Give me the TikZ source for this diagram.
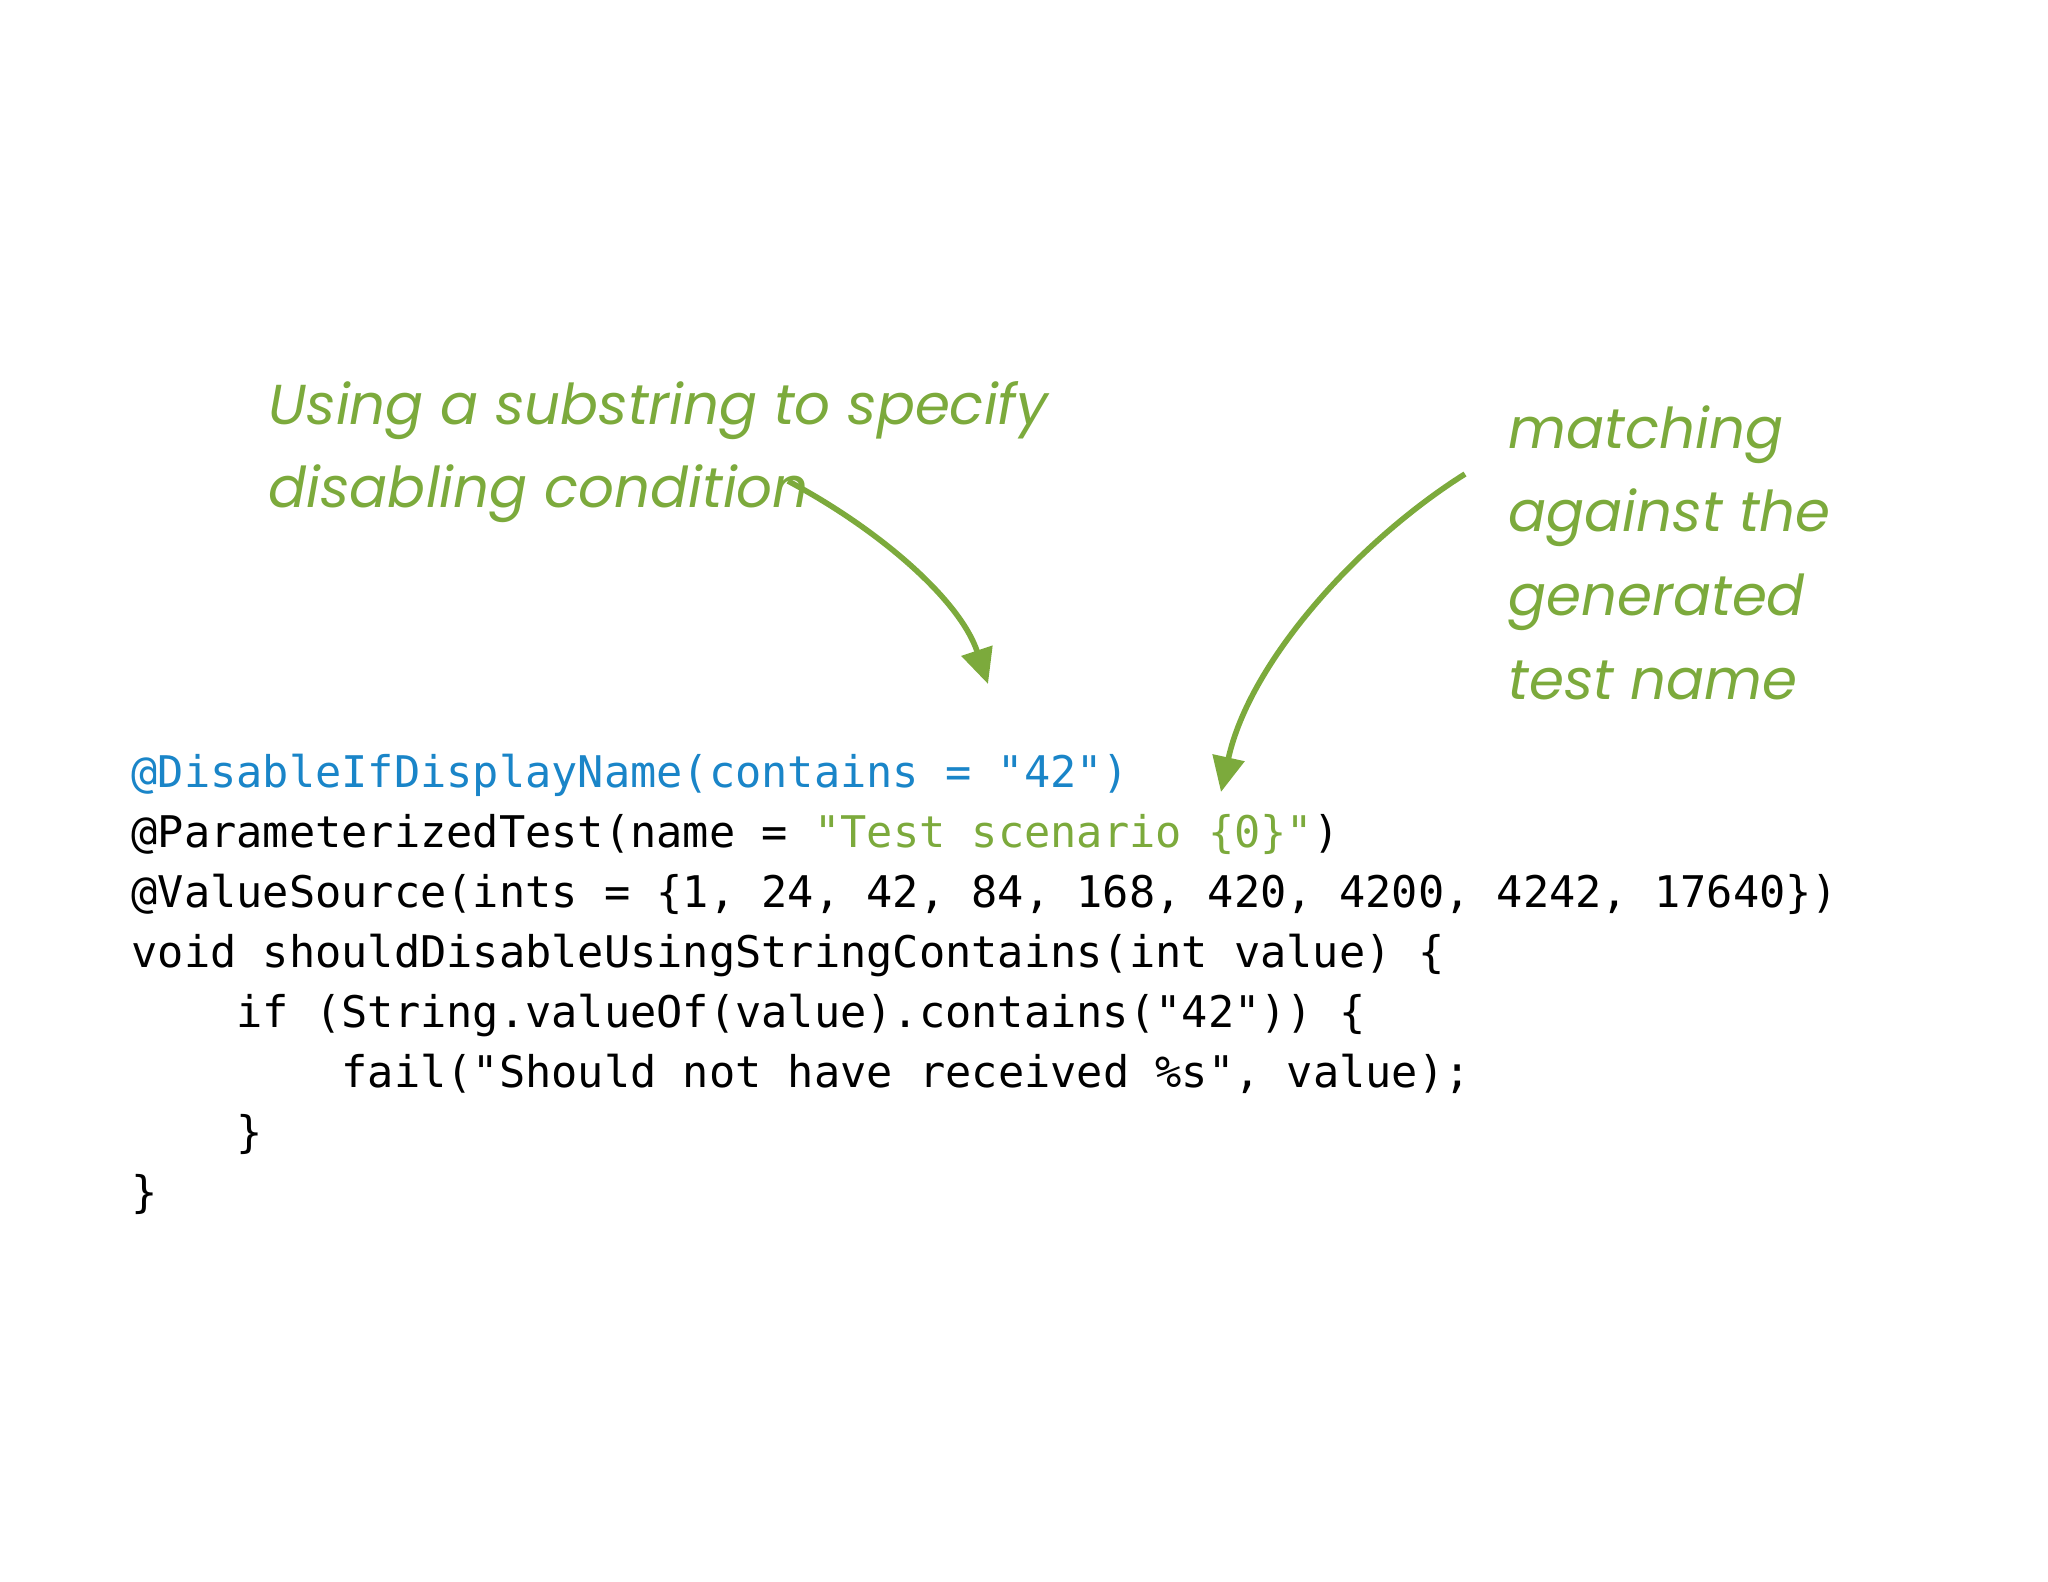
\documentclass[tikz,border=0pt]{standalone}
\usepackage{fontspec}
\setmainfont{Poppins}
\newfontfamily\codefont{DejaVu Sans Mono}
\usetikzlibrary{arrows.meta}
\definecolor{hand}{HTML}{7CAA3C}
\definecolor{anno}{HTML}{1A85C8}
\begin{document}
\begin{tikzpicture}[x=0.01cm,y=-0.01cm,
  code/.style={anchor=base west,inner sep=0,font=\codefont\fontsize{12.4pt}{14pt}\selectfont},
  note/.style={anchor=base west,inner sep=0,text=hand,font=\fontsize{16pt}{18pt}\selectfont\itshape},
  arr/.style={draw=hand,line width=1.6pt,-{Triangle[length=10pt,width=9pt]}}]
\useasboundingbox (0,0) rectangle (2048,1582);
\node[note] (n1) at (268,424) {Using a substring to specify};
\node[note] (n2) at (268,507) {disabling condition};
\node[note] (r1) at (1508,448) {matching};
\node[note] (r2) at (1508,531) {against the};
\node[note] (r3) at (1508,615) {generated};
\node[note] (r4) at (1508,699) {test name};
\node[code,text=anno] (c1) at (131,787) {@DisableIfDisplayName(contains = "42")};
\node[code] (c2) at (131,847) {@ParameterizedTest(name = \textcolor{hand}{"Test scenario \{0\}"})};
\node[code] (c3) at (131,907) {@ValueSource(ints = \{1, 24, 42, 84, 168, 420, 4200, 4242, 17640\})};
\node[code] (c4) at (131,967) {void shouldDisableUsingStringContains(int value) \{};
\node[code] (c5) at (131,1027) {\ \ \ \ if (String.valueOf(value).contains("42")) \{};
\node[code] (c6) at (131,1087) {\ \ \ \ \ \ \ \ fail("Should not have received \%s", value);};
\node[code] (c7) at (131,1147) {\ \ \ \ \}};
\node[code] (c8) at (131,1207) {\}};
\coordinate (a1s) at (788,481);
\coordinate (a1e) at (988,684);
\coordinate (a2s) at (1465,474);
\coordinate (a2e) at (1221,792);
\draw[arr] (a1s) .. controls (880,530) and (960,600) .. (a1e);
\draw[arr] (a2s) .. controls (1360,540) and (1250,660) .. (a2e);
\end{tikzpicture}
\end{document}
